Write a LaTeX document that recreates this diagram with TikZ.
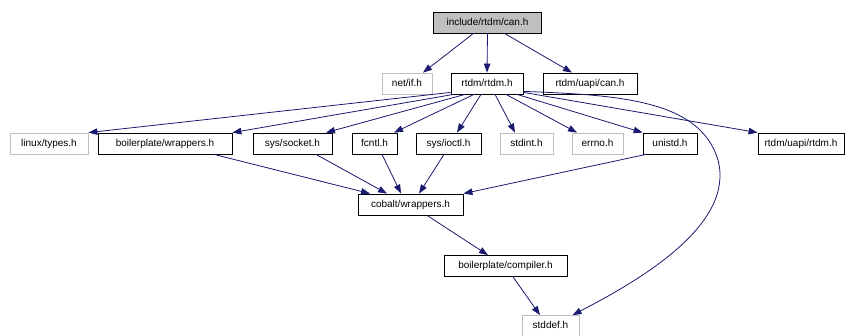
\documentclass[tikz,border=0pt]{standalone}
\usepackage{fontspec}
\setmainfont{Liberation Sans}
\usetikzlibrary{arrows.meta}
\definecolor{edgeblue}{HTML}{191970}
\definecolor{greyline}{HTML}{BFBFBF}
\tikzset{
  filebox/.style={draw=black, line width=0.8pt, inner sep=0pt, minimum height=21pt,
    font=\fontsize{10}{12}\selectfont, text height=7.2pt, text depth=2pt, anchor=center},
  missingbox/.style={filebox, draw=greyline},
  rootbox/.style={filebox, fill=greyline},
  edge/.style={draw=edgeblue, line width=0.8pt, -{Triangle[length=9pt,width=6.5pt]}, edgeblue}
}
\begin{document}
\begin{tikzpicture}[x=1pt,y=-1pt]
\useasboundingbox (0,0) rectangle (845,336);
% row 0
\node[rootbox, minimum width=108pt] (top) at (487.5,22.5) {include/rtdm/can.h};
% row 1
\node[missingbox, minimum width=50pt] (netif) at (407,83.5) {net/if.h};
\node[filebox, minimum width=72pt] (rtdm) at (487,83.5) {rtdm/rtdm.h};
\node[filebox, minimum width=94pt] (uapican) at (590,83.5) {rtdm/uapi/can.h};
% row 2
\node[missingbox, minimum width=78pt] (linuxtypes) at (49,143.5) {linux/types.h};
\node[filebox, minimum width=134pt] (bpwrap) at (165,143.5) {boilerplate/wrappers.h};
\node[filebox, minimum width=79pt] (syssocket) at (292.5,143.5) {sys/socket.h};
\node[filebox, minimum width=45pt] (fcntl) at (374.5,143.5) {fcntl.h};
\node[filebox, minimum width=65pt] (sysioctl) at (448.5,143.5) {sys/ioctl.h};
\node[missingbox, minimum width=53pt] (stdint) at (526.5,143.5) {stdint.h};
\node[missingbox, minimum width=51pt] (errno) at (597.5,143.5) {errno.h};
\node[filebox, minimum width=54pt] (unistd) at (670,143.5) {unistd.h};
\node[filebox, minimum width=86pt] (uapirtdm) at (801,143.5) {rtdm/uapi/rtdm.h};
% row 3
\node[filebox, minimum width=105pt] (cobalt) at (410.5,204.5) {cobalt/wrappers.h};
% row 4
\node[filebox, minimum width=123pt] (compiler) at (505.5,266) {boilerplate/compiler.h};
% row 5
\node[missingbox, minimum width=57pt] (stddef) at (550.5,326) {stddef.h};

% edges from top
\draw[edge] ([xshift=-14pt]top.south) -- ([xshift=16pt]netif.north);
\draw[edge] (top.south) -- (rtdm.north);
\draw[edge] ([xshift=17pt]top.south) -- ([xshift=-18pt]uapican.north);
% edges from rtdm
\draw[edge] ([yshift=2pt]rtdm.south west) -- (linuxtypes.north east);
\draw[edge] ([xshift=3pt]rtdm.south west) -- (bpwrap.north east);
\draw[edge] ([xshift=-22pt]rtdm.south) -- ([xshift=33.5pt]syssocket.north);
\draw[edge] ([xshift=-13pt]rtdm.south) -- ([xshift=19.5pt]fcntl.north);
\draw[edge] ([xshift=-6pt]rtdm.south) -- ([xshift=8.5pt]sysioctl.north);
\draw[edge] ([xshift=8pt]rtdm.south) -- ([xshift=-11.5pt]stdint.north);
\draw[edge] ([xshift=19pt]rtdm.south) -- ([xshift=-20.5pt]errno.north);
\draw[edge] ([xshift=30pt]rtdm.south) -- (unistd.north west);
\draw[edge] ([yshift=2pt]rtdm.south east) -- (uapirtdm.north west);
\draw[edge] ([yshift=3pt]rtdm.south east) .. controls (620,95) and (700,100) .. (718,160)
  .. controls (735,225) and (640,280) .. ([xshift=22pt]stddef.north);
% edges to cobalt
\draw[edge] ([xshift=49pt]bpwrap.south) -- ([xshift=-40.5pt]cobalt.north);
\draw[edge] ([xshift=23.5pt]syssocket.south) -- ([xshift=-23.5pt]cobalt.north);
\draw[edge] ([xshift=7.5pt]fcntl.south) -- ([xshift=-9.5pt]cobalt.north);
\draw[edge] ([xshift=-4.5pt]sysioctl.south) -- ([xshift=8.5pt]cobalt.north);
\draw[edge] ([xshift=-24pt]unistd.south) -- (cobalt.north east);
% lower edges
\draw[edge] ([xshift=16.5pt]cobalt.south) -- ([xshift=-17.5pt]compiler.north);
\draw[edge] ([xshift=7.5pt]compiler.south) -- ([xshift=-10.5pt]stddef.north);
\end{tikzpicture}
\end{document}
